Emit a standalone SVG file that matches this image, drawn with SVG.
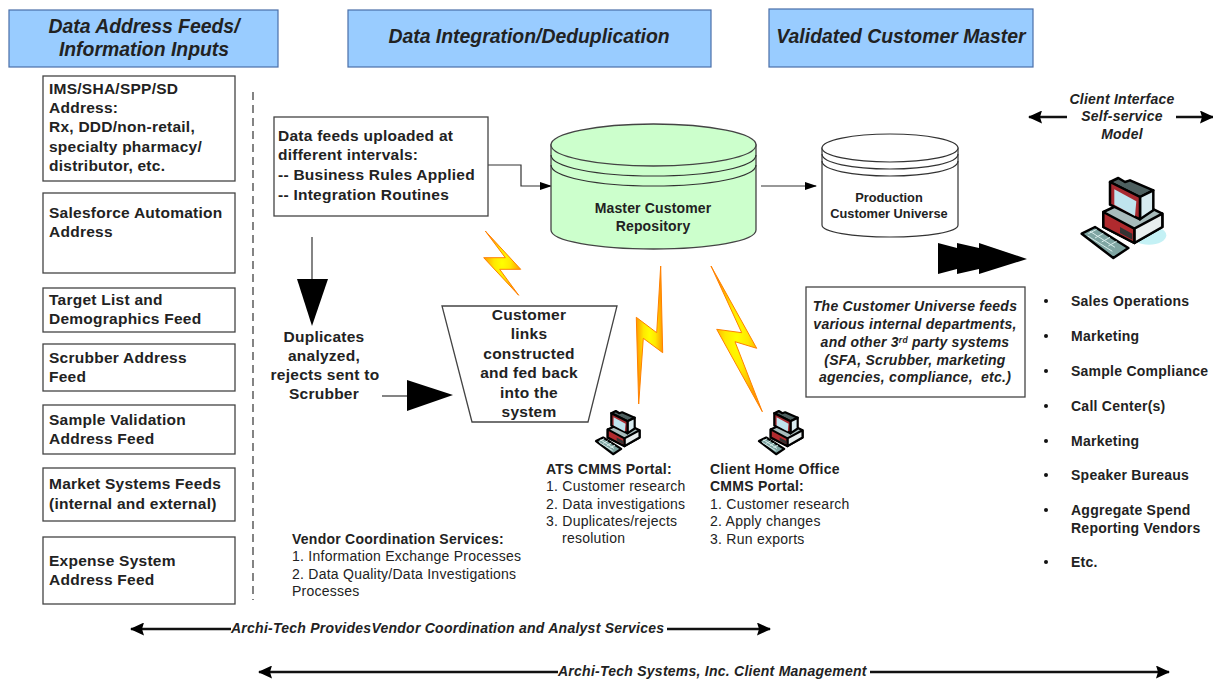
<svg xmlns="http://www.w3.org/2000/svg" width="1213" height="679" viewBox="0 0 1213 679">
<style>
text{font-family:"Liberation Sans",Arial,sans-serif;fill:#222}
.hd{font-size:19.4px;font-weight:bold;font-style:italic;text-anchor:middle}
.hb{fill:#99ccff;stroke:#4a6ea8;stroke-width:1.2}
.bx{fill:#fff;stroke:#444;stroke-width:1.3}
.t{font-size:15.500px;font-weight:bold;letter-spacing:.25px}
.c{text-anchor:middle}
.n{font-size:14px;font-weight:bold;letter-spacing:.15px}
.p{font-size:14px;letter-spacing:.25px}
.pb{font-size:14px;font-weight:bold;letter-spacing:.25px}
.i{font-style:italic;font-weight:bold;font-size:14px;letter-spacing:.25px;white-space:pre}
.l{fill:none;stroke:#333;stroke-width:1.2}
.ll{fill:none;stroke:#111;stroke-width:2.400}
.z{fill:url(#bolt);stroke:#ff8000;stroke-width:1;stroke-linejoin:miter}
.s{font-size:14px;font-weight:bold;letter-spacing:.25px}
.k{stroke:#000;stroke-linejoin:round;vector-effect:non-scaling-stroke}
</style>
<defs>
<radialGradient id="bolt" cx=".5" cy=".5" r=".5"><stop offset="0" stop-color="#ffff00"/><stop offset=".45" stop-color="#ffe800"/><stop offset="1" stop-color="#ff9a00"/></radialGradient>
<marker id="a" markerWidth="12" markerHeight="8" refX="11" refY="4" orient="auto" markerUnits="userSpaceOnUse"><path d="M0 0L12 4L0 8Z" fill="#000"/></marker>
<marker id="b" markerWidth="14" markerHeight="13" refX="13" refY="6.500" orient="auto-start-reverse" markerUnits="userSpaceOnUse"><path d="M0 0L14 6.500L0 13L2 6.500Z" fill="#000"/></marker>
<g id="pc">
<ellipse cx="222" cy="190" rx="52" ry="28" fill="currentColor"/>
<path class="k" d="M85 120L170 80L262 125V165L178 213L85 165Z" fill="#a8bcbc"/>
<path class="k" d="M178 170L262 125V165L178 213Z" fill="#e8eeee"/>
<path class="k" d="M85 120L178 170V213L85 165Z" fill="#b02a2e"/>
<path d="M135 165L172 185V203L135 183Z" fill="#333"/>
<path class="k" d="M105 30L130 18L150 30L165 25L235 55L195 75Z" fill="#4e6060"/>
<path class="k" d="M195 75L235 55V115L195 142Z" fill="#d8ebf0"/>
<path class="k" d="M105 30L195 75V142L105 98Z" fill="#a82a30"/>
<path d="M118 52L184 88L180 132L118 98Z" fill="#bfe4ee"/>
<path class="k" d="M20 185L60 165L160 228L115 258Z" fill="#7fa5a2"/>
<path d="M40 185L65 172M60 198L85 184M80 210L105 196M100 222L125 208M45 178L120 226M38 192L112 238" stroke="#d8ecea" stroke-width="1" vector-effect="non-scaling-stroke" fill="none"/>
</g>
</defs>
<rect width="1213" height="679" fill="#fff"/>

<g id="header-1"><rect class="hb" x="9" y="10" width="269" height="57"/><text class="hd" x="144" y="33">Data Address Feeds/</text><text class="hd" x="144" y="56">Information Inputs</text></g>
<g id="header-2"><rect class="hb" x="348" y="10" width="363" height="57"/><text class="hd" x="529" y="43">Data Integration/Deduplication</text></g>
<g id="header-3"><rect class="hb" x="769" y="9" width="264" height="58"/><text class="hd" x="901" y="43">Validated Customer Master</text></g>

<g id="feed-1"><rect class="bx" x="43" y="76" width="192" height="105"/><text class="t" x="49" y="94">IMS/SHA/SPP/SD</text><text class="t" x="49" y="113">Address:</text><text class="t" x="49" y="132">Rx, DDD/non-retail,</text><text class="t" x="49" y="152">specialty pharmacy/</text><text class="t" x="49" y="171">distributor, etc.</text></g>
<g id="feed-2"><rect class="bx" x="43" y="193" width="192" height="80"/><text class="t" x="49" y="218">Salesforce Automation</text><text class="t" x="49" y="237">Address</text></g>
<g id="feed-3"><rect class="bx" x="43" y="288" width="192" height="44"/><text class="t" x="49" y="305">Target List and</text><text class="t" x="49" y="324">Demographics Feed</text></g>
<g id="feed-4"><rect class="bx" x="43" y="344" width="192" height="47"/><text class="t" x="49" y="363">Scrubber Address</text><text class="t" x="49" y="382">Feed</text></g>
<g id="feed-5"><rect class="bx" x="43" y="405" width="192" height="49"/><text class="t" x="49" y="425">Sample Validation</text><text class="t" x="49" y="444">Address Feed</text></g>
<g id="feed-6"><rect class="bx" x="43" y="468" width="192" height="53"/><text class="t" x="49" y="489">Market Systems Feeds</text><text class="t" x="49" y="509">(internal and external)</text></g>
<g id="feed-7"><rect class="bx" x="43" y="537" width="192" height="67"/><text class="t" x="49" y="566">Expense System</text><text class="t" x="49" y="585">Address Feed</text></g>

<g id="connectors">
<path d="M253 92V600" fill="none" stroke="#333" stroke-width="1.2" stroke-dasharray="8 5"/>
<path class="l" d="M488 165H521V186H551" marker-end="url(#a)"/>
<path class="l" d="M761 186H816" marker-end="url(#a)"/>
<path class="l" d="M312 237V280"/>
<path d="M297 279H328L312 326Z" fill="#000"/>
<path class="l" d="M382 396H408"/>
<path d="M407 380L453 395L407 411Z" fill="#000"/>
<path d="M938 243L957 248L957 243L979 248L979 243L1027 259L979 274L979 269L957 274L957 269L938 274Z" fill="#000"/>
<path class="z" d="M485.300 231L520.700 269.300H499.700L518.700 295.300L483.700 257.700H505.300Z"/>
<path class="z" d="M660.700 266L662.700 352.700L643.300 338.300L638.700 404L636.300 317.300L656.700 332.700Z"/>
<path class="z" d="M711 266L756.700 348.300L735 341.700L762.300 411.700L716.700 329.300L741.700 332.700Z"/>
<path class="ll" d="M1067 117H1029" marker-end="url(#b)"/>
<path class="ll" d="M1176 117H1213" marker-end="url(#b)"/>
<path class="ll" d="M231 629H131" marker-end="url(#b)"/>
<path class="ll" d="M667 629H770" marker-end="url(#b)"/>
<path class="ll" d="M558 672H259" marker-end="url(#b)"/>
<path class="ll" d="M870 672H1169" marker-end="url(#b)"/>
</g>

<g id="data-feeds"><rect class="bx" x="274" y="117" width="214" height="99"/><text class="t" x="278" y="141">Data feeds uploaded at</text><text class="t" x="278" y="160">different intervals:</text><text class="t" x="278" y="180">-- Business Rules Applied</text><text class="t" x="278" y="200">-- Integration Routines</text></g>

<g id="master-repository">
<path d="M551 145V230C551 241 597 249 653.500 249C710 249 756 241 756 230V145Z" fill="#ccffcc" stroke="#444" stroke-width="1.3"/>
<ellipse cx="653.500" cy="145" rx="102.500" ry="21" fill="#ccffcc" stroke="#444" stroke-width="1.3"/>
<path class="l" d="M551 155C551 167 597 176 653.500 176C710 176 756 167 756 155M551 165C551 177 597 186 653.500 186C710 186 756 177 756 165"/>
<text class="n c" x="653" y="213">Master Customer</text><text class="n c" x="653" y="231">Repository</text>
</g>
<g id="production-universe">
<path d="M822 148V225C822 232 852 237 890 237C928 237 958 232 958 225V148Z" fill="#fff" stroke="#333" stroke-width="1.2"/>
<ellipse cx="890" cy="148" rx="68" ry="14" fill="#fff" stroke="#333" stroke-width="1.2"/>
<path class="l" d="M822 154C822 163 852 169 890 169C928 169 958 163 958 154M822 161C822 170 852 176 890 176C928 176 958 170 958 161"/>
<text class="c" style="font-size:12.8px;font-weight:bold" x="889" y="202">Production</text><text class="c" style="font-size:12.8px;font-weight:bold" x="889" y="218">Customer Universe</text>
</g>

<g id="customer-links"><path class="bx" d="M442 306H617L588 422H472Z"/>
<text class="t c" x="529" y="320">Customer</text><text class="t c" x="529" y="339">links</text><text class="t c" x="529" y="359">constructed</text><text class="t c" x="529" y="378">and fed back</text><text class="t c" x="529" y="398">into the</text><text class="t c" x="529" y="417">system</text></g>

<g id="duplicates"><text class="t c" x="324" y="342">Duplicates</text><text class="t c" x="324" y="361">analyzed,</text><text class="t c" x="325" y="380">rejects sent to</text><text class="t c" x="324" y="399">Scrubber</text></g>

<g id="ats-portal">
<use href="#pc" color="#fff" stroke-width="2.200" transform="translate(592.400 407.800) scale(.18)"/>
<text class="pb" x="546" y="474">ATS CMMS Portal:</text><text class="p" x="546" y="491">1. Customer research</text><text class="p" x="546" y="509">2. Data investigations</text><text class="p" x="546" y="526">3. Duplicates/rejects</text><text class="p" x="562" y="543">resolution</text>
</g>
<g id="client-portal">
<use href="#pc" color="#fff" stroke-width="2.200" transform="translate(755.400 407.800) scale(.18)"/>
<text class="pb" x="710" y="474">Client Home Office</text><text class="pb" x="710" y="491">CMMS Portal:</text><text class="p" x="710" y="509">1. Customer research</text><text class="p" x="710" y="526">2. Apply changes</text><text class="p" x="710" y="544">3. Run exports</text>
</g>
<g id="vendor-services"><text class="pb" x="292" y="544">Vendor Coordination Services:</text><text class="p" x="292" y="561">1. Information Exchange Processes</text><text class="p" x="292" y="579">2. Data Quality/Data Investigations</text><text class="p" x="292" y="596">Processes</text></g>

<g id="universe-note"><rect class="bx" x="806" y="287" width="219" height="110"/>
<text class="i c" x="915" y="311">The Customer Universe feeds</text><text class="i c" x="915" y="329">various internal departments,</text><text class="i c" x="915" y="347">and other 3<tspan font-size="8.500" dy="-4">rd</tspan><tspan dy="4"> party systems</tspan></text><text class="i c" x="915" y="365">(SFA, Scrubber, marketing</text><text class="i c" x="915" y="382">agencies, compliance,  etc.)</text></g>

<g id="client-interface"><text class="i c" x="1122" y="104">Client Interface</text><text class="i c" x="1122" y="121">Self-service</text><text class="i c" x="1122" y="139">Model</text>
<use href="#pc" color="#c4f1f5" stroke-width="2.500" transform="translate(1075 172) scale(.3333)"/></g>

<g id="consumers">
<g fill="#111"><circle cx="1046" cy="301" r="2"/><circle cx="1046" cy="336" r="2"/><circle cx="1046" cy="371" r="2"/><circle cx="1046" cy="406" r="2"/><circle cx="1046" cy="441" r="2"/><circle cx="1046" cy="475" r="2"/><circle cx="1046" cy="510" r="2"/><circle cx="1046" cy="562" r="2"/></g>
<text class="s" x="1071" y="306">Sales Operations</text><text class="s" x="1071" y="341">Marketing</text><text class="s" x="1071" y="376">Sample Compliance</text><text class="s" x="1071" y="411">Call Center(s)</text><text class="s" x="1071" y="446">Marketing</text><text class="s" x="1071" y="480">Speaker Bureaus</text><text class="s" x="1071" y="515">Aggregate Spend</text><text class="s" x="1071" y="533">Reporting Vendors</text><text class="s" x="1071" y="567">Etc.</text>
</g>

<g id="span-labels"><text class="i" x="231" y="633">Archi-Tech ProvidesVendor Coordination and Analyst Services</text><text class="i" x="558" y="676">Archi-Tech Systems, Inc. Client Management</text></g>
</svg>
